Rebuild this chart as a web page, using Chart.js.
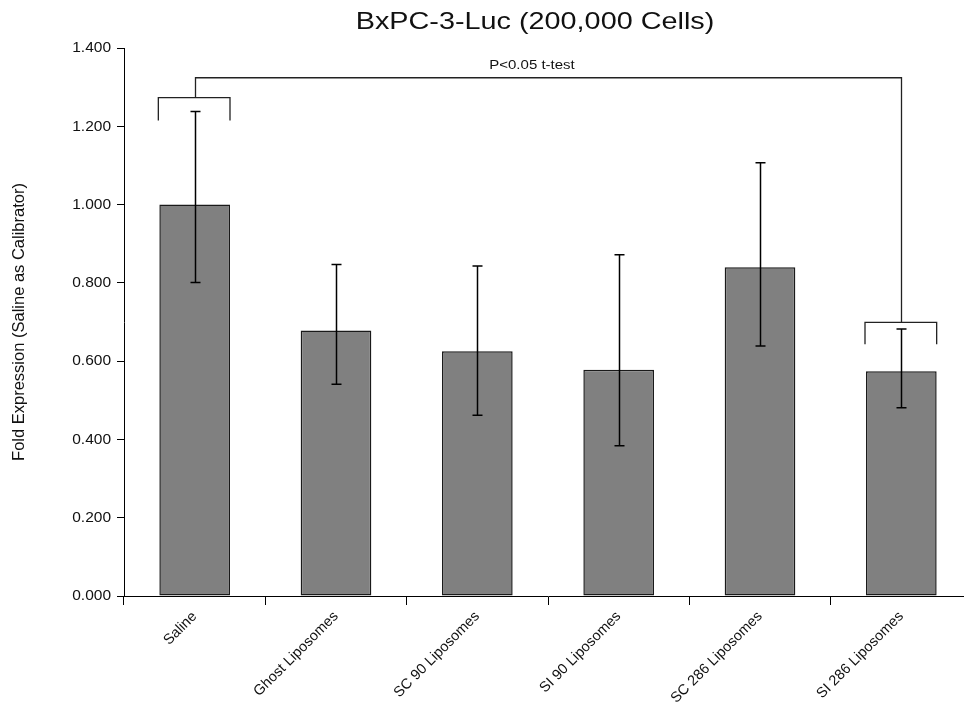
<!DOCTYPE html>
<html>
<head>
<meta charset="utf-8">
<title>BxPC-3-Luc (200,000 Cells)</title>
<script src="https://cdn.jsdelivr.net/npm/chart.js@4/dist/chart.umd.min.js"></script>
<style>
  html, body { margin: 0; padding: 0; background: #fff; overflow: hidden; }
  #wrap { width: 972px; height: 710px; }
</style>
</head>
<body>
<div id="wrap"><canvas id="chart" width="972" height="710"></canvas></div>
<script>
// Chart data
const categories = ['Saline', 'Ghost Liposomes', 'SC 90 Liposomes', 'SI 90 Liposomes', 'SC 286 Liposomes', 'SI 286 Liposomes'];
const foldValues = [1.000, 0.678, 0.625, 0.578, 0.840, 0.574];
const errUpper = [1.238, 0.847, 0.843, 0.872, 1.107, 0.682];
const errLower = [0.801, 0.541, 0.462, 0.384, 0.639, 0.481];

// Significance bracket between Saline and SI 286 Liposomes
const sigPair = [0, 5];
const sigBracketTop = [1.273, 0.699];
const sigBracketEnd = [1.215, 0.643];
const sigConnector = 1.324;
const sigLabel = 'P<0.05 t-test';
const sigLabelValue = 1.356;

const fontFamily = '"Liberation Sans", Arial, sans-serif';

// Error bars drawn on top of the bars
const errorBarPlugin = {
  id: 'errorBars',
  afterDatasetsDraw(chart) {
    const ctx = chart.ctx;
    const x = chart.scales.x;
    const y = chart.scales.y;
    ctx.save();
    ctx.strokeStyle = '#000';
    ctx.lineWidth = 1.5;
    categories.forEach((c, i) => {
      const px = Math.round(x.getPixelForValue(i)) + 0.5;
      const top = y.getPixelForValue(errUpper[i]);
      const bot = y.getPixelForValue(errLower[i]);
      ctx.beginPath();
      ctx.moveTo(px, top);
      ctx.lineTo(px, bot);
      ctx.moveTo(px - 5, top);
      ctx.lineTo(px + 5, top);
      ctx.moveTo(px - 5, bot);
      ctx.lineTo(px + 5, bot);
      ctx.stroke();
    });
    ctx.restore();
  }
};

// Significance brackets, connector line and the title
const annotationPlugin = {
  id: 'annotations',
  afterDraw(chart) {
    const ctx = chart.ctx;
    const y = chart.scales.y;
    const bars = chart.getDatasetMeta(0).data;
    ctx.save();
    ctx.strokeStyle = '#222';
    ctx.lineWidth = 1.3;

    const centers = [];
    sigPair.forEach((idx, k) => {
      const bar = bars[idx];
      const left = bar.x - bar.width / 2 - 1;
      const right = bar.x + bar.width / 2;
      const top = y.getPixelForValue(sigBracketTop[k]);
      const end = y.getPixelForValue(sigBracketEnd[k]);
      ctx.beginPath();
      ctx.moveTo(left, end);
      ctx.lineTo(left, top);
      ctx.lineTo(right, top);
      ctx.lineTo(right, end);
      ctx.stroke();
      centers.push({ x: Math.round(bar.x) + 0.5, top: top });
    });

    const cy = y.getPixelForValue(sigConnector);
    ctx.beginPath();
    ctx.moveTo(centers[0].x, centers[0].top);
    ctx.lineTo(centers[0].x, cy);
    ctx.lineTo(centers[1].x, cy);
    ctx.lineTo(centers[1].x, centers[1].top);
    ctx.stroke();

    // label above the connector
    ctx.fillStyle = '#111';
    ctx.textAlign = 'center';
    ctx.textBaseline = 'middle';
    ctx.font = '12px ' + fontFamily;
    ctx.save();
    ctx.translate(532, y.getPixelForValue(sigLabelValue));
    ctx.scale(1.25, 1);
    ctx.fillText(sigLabel, 0, 0);
    ctx.restore();

    // chart title
    ctx.font = '24px ' + fontFamily;
    ctx.save();
    ctx.translate(535, 22);
    ctx.scale(1.2, 1);
    ctx.fillText('BxPC-3-Luc (200,000 Cells)', 0, 0);
    ctx.restore();

    ctx.restore();
  }
};

const ctx = document.getElementById('chart').getContext('2d');
const chart = new Chart(ctx, {
  type: 'bar',
  data: {
    labels: categories,
    datasets: [{
      data: foldValues,
      backgroundColor: '#808080',
      borderColor: '#1a1a1a',
      borderWidth: 1.5,
      borderSkipped: false,
      categoryPercentage: 1,
      barPercentage: 0.5
    }]
  },
  options: {
    responsive: false,
    animation: false,
    devicePixelRatio: 1,
    layout: { padding: { top: 48, left: 0, right: 0, bottom: 0 } },
    plugins: {
      legend: { display: false },
      tooltip: { enabled: false },
      title: { display: false }
    },
    scales: {
      x: {
        offset: true,
        grid: {
          offset: true,
          drawOnChartArea: false,
          drawTicks: true,
          tickLength: 9,
          color: '#000'
        },
        border: { display: true, color: '#000', width: 1 },
        ticks: {
          autoSkip: false,
          minRotation: 45,
          maxRotation: 45,
          padding: 3,
          color: '#111',
          font: { family: fontFamily, size: 14.5 }
        },
        afterFit(scale) { scale.height = 114; }
      },
      y: {
        min: 0,
        max: 1.4,
        grid: {
          drawOnChartArea: false,
          drawTicks: true,
          tickLength: 7,
          color: '#000'
        },
        border: { display: true, color: '#000', width: 1 },
        ticks: {
          stepSize: 0.2,
          padding: 6,
          color: '#111',
          font: { family: fontFamily, size: 15.5 },
          callback: v => v.toFixed(3)
        },
        title: {
          display: true,
          text: 'Fold Expression (Saline as Calibrator)',
          color: '#111',
          font: { family: fontFamily, size: 16.5 },
          padding: { top: 10, bottom: 0 }
        },
        afterFit(scale) { scale.width = 124; }
      }
    }
  },
  plugins: [errorBarPlugin, annotationPlugin]
});
</script>
</body>
</html>
